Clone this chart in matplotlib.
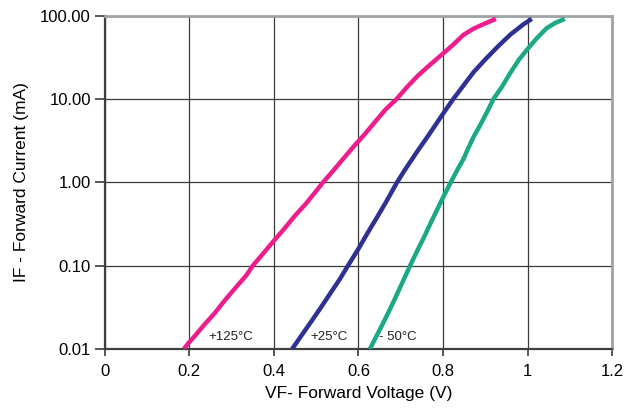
import matplotlib
matplotlib.use("Agg")
import matplotlib.pyplot as plt
from matplotlib.ticker import FixedLocator, FixedFormatter

plt.rcParams['font.family'] = ['Liberation Sans', 'DejaVu Sans']

# forward voltage (V) / forward current (mA)
vf_125 = [0.187, 0.198, 0.21, 0.235, 0.26, 0.285, 0.31, 0.335, 0.35, 0.375, 0.40, 0.425,
          0.45, 0.475, 0.50, 0.516, 0.54, 0.565, 0.59, 0.615, 0.64, 0.665, 0.69,
          0.715, 0.74, 0.769, 0.801, 0.824, 0.848, 0.872, 0.897, 0.925]
if_125 = [0.010, 0.0118, 0.0138, 0.0195, 0.027, 0.039, 0.055, 0.077, 0.10, 0.141, 0.20, 0.28,
          0.40, 0.55, 0.79, 1.0, 1.38, 1.95, 2.75, 3.8, 5.4, 7.6, 10.0,
          14.0, 19.0, 25.8, 35.6, 45.0, 59.0, 70.0, 80.0, 92.0]

vf_25 = [0.443, 0.465, 0.49, 0.51, 0.53, 0.555, 0.575, 0.60, 0.62, 0.645, 0.665,
         0.691, 0.71, 0.735, 0.769, 0.801, 0.824, 0.848, 0.872, 0.90,
         0.93, 0.96, 0.99, 1.01]
if_25 = [0.010, 0.0145, 0.022, 0.031, 0.044, 0.068, 0.10, 0.16, 0.24, 0.39, 0.58,
         1.0, 1.42, 2.2, 3.9, 6.8, 10.0, 14.5, 21.0, 30.0,
         43.0, 60.0, 79.0, 92.0]

vf_m50 = [0.627, 0.64, 0.655, 0.67, 0.685, 0.70, 0.722, 0.74, 0.755, 0.77, 0.785,
          0.80, 0.818, 0.835, 0.848, 0.86, 0.872, 0.888, 0.904, 0.919, 0.939, 0.96,
          0.98, 1.0, 1.022, 1.045, 1.065, 1.088]
if_m50 = [0.010, 0.0135, 0.019, 0.027, 0.039, 0.057, 0.10, 0.155, 0.22, 0.32, 0.46,
          0.66, 1.0, 1.45, 1.9, 2.6, 3.5, 4.9, 7.0, 10.0, 14.0, 21.0,
          30.0, 40.0, 54.0, 71.0, 82.0, 92.0]

x_ticks = [0, 0.2, 0.4, 0.6, 0.8, 1.0, 1.2]
x_labels = ['0', '0.2', '0.4', '0.6', '0.8', '1', '1.2']
y_ticks = [0.01, 0.1, 1, 10, 100]
y_labels = ['0.01', '0.10', '1.00', '10.00', '100.00']

fig = plt.figure(figsize=(6.24, 4.17), dpi=100)
ax = fig.add_axes([0.168, 0.163, 0.813, 0.799])

ax.plot(vf_125, if_125, color='#ec1d8c', lw=3.2, solid_capstyle='butt', zorder=3)
ax.plot(vf_25, if_25, color='#2e3192', lw=3.2, solid_capstyle='butt', zorder=3)
ax.plot(vf_m50, if_m50, color='#1ca885', lw=3.2, solid_capstyle='butt', zorder=3)

ax.set_yscale('log')
ax.set_xlim(0, 1.2)
ax.set_ylim(0.01, 100)
ax.xaxis.set_major_locator(FixedLocator(x_ticks))
ax.xaxis.set_major_formatter(FixedFormatter(x_labels))
ax.yaxis.set_major_locator(FixedLocator(y_ticks))
ax.yaxis.set_major_formatter(FixedFormatter(y_labels))
ax.yaxis.set_minor_locator(FixedLocator([]))

ax.grid(True, color='#3a3a3a', lw=0.9)
ax.tick_params(axis='y', length=7, width=1.2, color='#3a3a3a', labelsize=12, pad=3)
ax.tick_params(axis='x', length=5, width=1.2, color='#3a3a3a', labelsize=12, pad=6)

for side in ['left', 'bottom']:
    ax.spines[side].set_color('#404040')
    ax.spines[side].set_linewidth(1.6)
for side in ['top', 'right']:
    ax.spines[side].set_color('#9ea3a8')
    ax.spines[side].set_linewidth(2)

ax.set_xlabel('VF- Forward Voltage (V)', fontsize=12.5, labelpad=5)
ax.set_ylabel('IF - Forward Current (mA)', fontsize=12.5, labelpad=8)

ax.text(0.244, 0.0139, '+125°C', fontsize=9.5, va='center', ha='left', color='#222222')
ax.text(0.487, 0.0139, '+25°C', fontsize=9.5, va='center', ha='left', color='#222222')
ax.text(0.649, 0.0139, '- 50°C', fontsize=9.5, va='center', ha='left', color='#222222')

fig.savefig('out.png', dpi=100)
